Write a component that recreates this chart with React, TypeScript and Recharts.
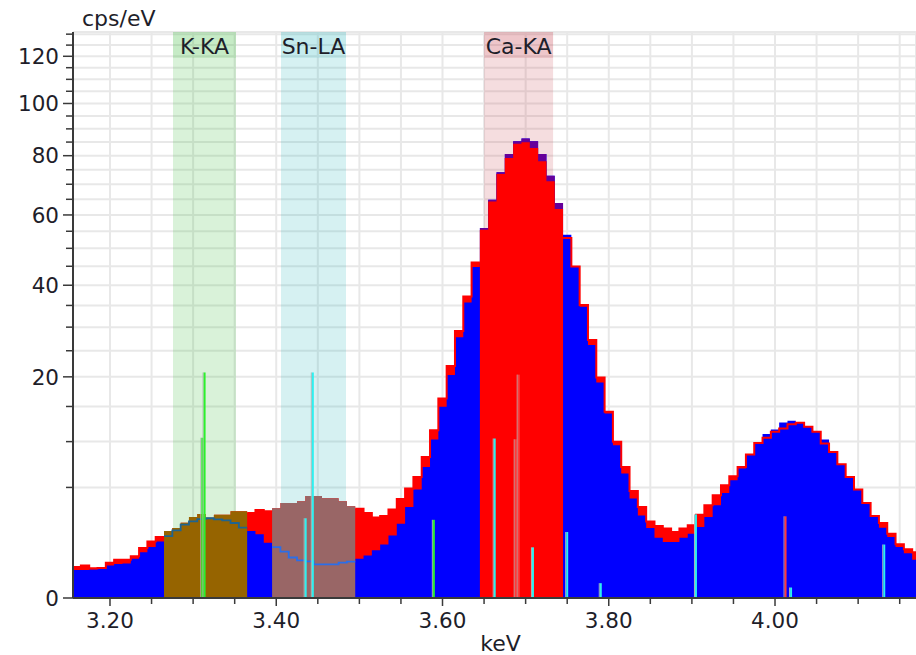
import React from 'react';
import {
  ComposedChart,
  Area,
  Line,
  XAxis,
  YAxis,
  CartesianGrid,
  ReferenceArea,
  ReferenceLine,
} from 'recharts';

// ---------- data ----------
const energies = [
  3.15, 3.16, 3.17, 3.18, 3.19, 3.2, 3.21, 3.22, 3.23, 3.24, 3.25, 3.26, 3.27, 3.28, 3.29, 3.3, 3.31, 3.32, 3.33, 3.34,
  3.35, 3.36, 3.37, 3.38, 3.39, 3.4, 3.41, 3.42, 3.43, 3.44, 3.45, 3.46, 3.47, 3.48, 3.49, 3.5, 3.51, 3.52, 3.53, 3.54,
  3.55, 3.56, 3.57, 3.58, 3.59, 3.6, 3.61, 3.62, 3.63, 3.64, 3.65, 3.66, 3.67, 3.68, 3.69, 3.7, 3.71, 3.72, 3.73, 3.74,
  3.75, 3.76, 3.77, 3.78, 3.79, 3.8, 3.81, 3.82, 3.83, 3.84, 3.85, 3.86, 3.87, 3.88, 3.89, 3.9, 3.91, 3.92, 3.93, 3.94,
  3.95, 3.96, 3.97, 3.98, 3.99, 4.0, 4.01, 4.02, 4.03, 4.04, 4.05, 4.06, 4.07, 4.08, 4.09, 4.1, 4.11, 4.12, 4.13, 4.14,
  4.15, 4.16, 4.17, 4.18,
];

// spectrum 1 (red)
const spectrumRed = [
  0.39, 0.39, 0.43, 0.36, 0.37, 0.51, 0.6, 0.6, 0.71, 1.02, 1.31, 1.52, 1.83, 2.0, 2.32, 2.68, 2.88, 2.64, 2.84, 2.84,
  3.07, 3.07, 2.95, 3.17, 3.07, 3.29, 3.69, 3.69, 3.82, 4.26, 4.26, 4.06, 4.06, 3.82, 3.44, 3.25, 2.95, 2.65, 2.75, 3.2,
  4.0, 4.9, 5.99, 8.14, 11.52, 16.29, 22.0, 29.16, 37.15, 46.03, 55.45, 64.32, 73.54, 79.2, 84.34, 84.93, 82.85, 77.98, 70.99, 61.88,
  52.98, 44.93, 35.13, 27.23, 19.9, 14.17, 9.97, 7.02, 4.68, 3.39, 2.4, 2.12, 1.97, 1.78, 1.97, 2.16, 2.84, 3.51, 4.31, 5.2,
  6.06, 7.02, 8.42, 9.84, 10.5, 11.29, 11.76, 12.36, 12.55, 11.98, 11.29, 9.76, 8.73, 7.32, 5.99, 4.81, 3.69, 2.75, 2.3, 1.69,
  1.18, 0.97, 0.86, 0.8,
];

// spectrum 2 (blue)
const spectrumBlue = [
  0.32, 0.32, 0.32, 0.33, 0.38, 0.43, 0.47, 0.49, 0.63, 0.86, 1.06, 1.31, 1.57, 1.87, 2.2, 2.4, 2.55, 2.6, 2.53, 2.47,
  2.3, 2.02, 1.83, 1.66, 1.25, 1.06, 0.88, 0.67, 0.58, 0.55, 0.46, 0.46, 0.46, 0.51, 0.54, 0.63, 0.74, 0.93, 1.17, 1.6,
  2.26, 3.39, 4.81, 7.02, 10.28, 14.95, 20.33, 27.8, 35.68, 44.77, 55.97, 64.88, 74.1, 80.65, 85.3, 86.32, 85.3, 80.65, 72.95, 63.8,
  53.96, 44.93, 34.7, 26.18, 19.01, 13.92, 9.55, 6.33, 4.04, 2.79, 2.0, 1.49, 1.28, 1.28, 1.49, 1.69, 2.06, 2.68, 3.51, 4.51,
  5.67, 6.85, 8.35, 9.84, 11.0, 11.62, 12.6, 12.84, 12.55, 11.98, 11.29, 10.28, 8.85, 7.32, 5.99, 4.81, 3.69, 2.75, 2.02, 1.52,
  1.06, 0.82, 0.6, 0.55,
];

// regions of interest
const roiLabels = ['K-KA', 'Sn-LA', 'Ca-KA'];
const roiWindowFrom = [3.2758, 3.4057, 3.65];
const roiWindowTo = [3.3516, 3.4839, 3.733];
const roiFirstBin = [3.27, 3.4, 3.65];
const roiLastBin = [3.36, 3.49, 3.74];

// line markers
const markerElement = ['K', 'K', 'K', 'Sn', 'Sn', 'Sn', 'Sn', 'Sn', 'Sn', 'Sn', 'Sn', 'Sn', 'Ca', 'Ca', 'Ca'];
const markerEnergy = [3.3111, 3.3138, 3.5896, 3.4354, 3.444, 3.6628, 3.7088, 3.75, 3.7904, 3.9049, 4.0193, 4.1314, 3.6881, 3.6917, 4.0127];
const markerHeight = [10.5, 20.8, 2.5, 2.6, 20.8, 10.4, 1.05, 1.78, 0.09, 2.86, 0.045, 1.17, 10.3, 20.4, 2.73];

const xTicks = [3.2, 3.25, 3.3, 3.35, 3.4, 3.45, 3.5, 3.55, 3.6, 3.65, 3.7, 3.75, 3.8, 3.85, 3.9, 3.95, 4.0, 4.05, 4.1, 4.15];
const yTicks = [0, 5, 10, 15, 20, 25, 30, 35, 40, 45, 50, 55, 60, 65, 70, 75, 80, 85, 90, 95, 100, 105, 110, 115, 120, 125, 130];
const yLabelled = [0, 20, 40, 60, 80, 100, 120];

const BIN_WIDTH = 0.01;
const X_DOMAIN: [number, number] = [3.1555, 4.1696];
const Y_DOMAIN: [number, number] = [0, 131];

// ---------- styles ----------
const FONT = "'DejaVu Sans', Verdana, sans-serif";
const TEXT = '#1e1e2a';
const AXIS = '#3a3a3a';
const roiFillColor = ['#966400', '#996666', '#ff0000'];
const roiBandColor = ['#40c040', '#30b8c0', '#c84050'];
const roiBandOpacity = [0.2, 0.2, 0.18];
const roiLabelOpacity = [0.12, 0.1, 0.14];
const markerColor: Record<string, string> = { K: '#2cf02c', Sn: '#2ef0f0', Ca: '#ff3a3a' };

// ---------- derived rows (bin edges for histogram steps) ----------
const roiIndexOf = (e: number) => {
  for (let k = 0; k < roiFirstBin.length; k++) {
    if (e >= roiFirstBin[k] - 1e-6 && e <= roiLastBin[k] + 1e-6) return k;
  }
  return -1;
};

const rows: any[] = [];
energies.forEach((e, i) => {
  const r = spectrumRed[i];
  const b = spectrumBlue[i];
  const roi = roiIndexOf(e);
  const row = {
    red: r,
    blue: b,
    redLine: roi < 0 ? r : null,
    kFill: roi === 0 ? r : null,
    snFill: roi === 1 ? r : null,
    caCap: roi === 2 ? b : null,
    caFill: roi === 2 ? r : null,
    kLine: roi === 0 ? b : null,
    snLine: roi === 1 ? b : null,
  };
  rows.push({ e: +(e - BIN_WIDTH / 2).toFixed(4), ...row });
  rows.push({ e: +(e + BIN_WIDTH / 2).toFixed(4), ...row });
});

// ---------- custom ticks ----------
const XTick = (props: any) => {
  const { x, y, payload } = props;
  const v = payload.value as number;
  const major = Math.abs(v * 5 - Math.round(v * 5)) < 1e-6;
  return (
    <g>
      <line x1={x} y1={y} x2={x} y2={y + (major ? 8 : 6)} stroke={AXIS} strokeWidth={1.5} />
      {major && (
        <text x={x} y={y + 30} textAnchor="middle" fontSize={21.5} fontFamily={FONT} fill={TEXT}>
          {v.toFixed(2)}
        </text>
      )}
    </g>
  );
};

const YTick = (props: any) => {
  const { x, y, payload } = props;
  const v = payload.value as number;
  const major = yLabelled.includes(v);
  return (
    <g>
      <line x1={x - (major ? 10 : 7)} y1={y} x2={x} y2={y} stroke={AXIS} strokeWidth={1.5} />
      {major && (
        <text x={x - 14} y={y} dy="0.36em" textAnchor="end" fontSize={21.5} fontFamily={FONT} fill={TEXT}>
          {v}
        </text>
      )}
    </g>
  );
};

const bandLabel = (k: number) => (p: any) => {
  const vb = p.viewBox || {};
  return (
    <g>
      <rect x={vb.x} y={vb.y} width={vb.width} height={26} fill={roiBandColor[k]} fillOpacity={roiLabelOpacity[k]} />
      <text x={vb.x + vb.width / 2} y={vb.y + 22} textAnchor="middle" fontSize={22} fontFamily={FONT} fill={TEXT}>
        {roiLabels[k]}
      </text>
    </g>
  );
};

const markerShape = (color: string) => (p: any) => {
  const { x1, y1, x2, y2 } = p;
  return (
    <g>
      <line x1={x1 - 1.5} y1={y1} x2={x2 - 1.5} y2={y2} stroke="#b4b4b4" strokeWidth={1} />
      <line x1={x1} y1={y1} x2={x2} y2={y2} stroke={color} strokeWidth={2} />
    </g>
  );
};

export default function App() {
  return (
    <div style={{ position: 'absolute', left: 0, top: 0, width: 916, height: 655, background: '#fff' }}>
      <ComposedChart width={916} height={655} data={rows} margin={{ top: 32, right: 0, bottom: 0, left: 0 }}>
        <CartesianGrid stroke="#e8e8e8" strokeWidth={2} />
        <XAxis
          dataKey="e"
          type="number"
          domain={X_DOMAIN}
          allowDataOverflow
          ticks={xTicks}
          interval={0}
          tick={<XTick />}
          tickLine={false}
          tickSize={0}
          tickMargin={0}
          height={57}
          axisLine={{ stroke: AXIS, strokeWidth: 2 }}
          label={{
            content: (p: any) => {
              const vb = p.viewBox;
              return (
                <text x={vb.x + vb.width / 2 + 6} y={vb.y + vb.height - 4} textAnchor="middle" fontSize={22} fontFamily={FONT} fill={TEXT}>
                  keV
                </text>
              );
            },
          }}
        />
        <XAxis
          xAxisId="top"
          orientation="top"
          dataKey="e"
          type="number"
          domain={X_DOMAIN}
          allowDataOverflow
          tick={false}
          tickLine={false}
          height={0}
          axisLine={{ stroke: AXIS, strokeWidth: 2 }}
        />
        <YAxis
          type="number"
          scale="sqrt"
          domain={Y_DOMAIN}
          allowDataOverflow
          ticks={yTicks}
          interval={0}
          tick={<YTick />}
          tickLine={false}
          tickSize={0}
          tickMargin={0}
          width={73}
          axisLine={{ stroke: AXIS, strokeWidth: 2 }}
          label={{
            content: (p: any) => {
              const vb = p.viewBox;
              return (
                <text x={vb.x + vb.width + 9} y={vb.y - 6} textAnchor="start" fontSize={22} fontFamily={FONT} fill={TEXT}>
                  cps/eV
                </text>
              );
            },
          }}
        />

        {roiLabels.map((lab, k) => (
          <ReferenceArea
            key={lab}
            x1={roiWindowFrom[k]}
            x2={roiWindowTo[k]}
            fill={roiBandColor[k]}
            fillOpacity={roiBandOpacity[k]}
            stroke="none"
            label={{ content: bandLabel(k) }}
          />
        ))}

        <Area dataKey="red" type="linear" fill="#ff0000" fillOpacity={1} stroke="none" isAnimationActive={false} dot={false} activeDot={false} />
        <Area dataKey="blue" type="linear" fill="#0000ff" fillOpacity={1} stroke="none" isAnimationActive={false} dot={false} activeDot={false} />
        <Area dataKey="caCap" type="linear" fill="#660099" fillOpacity={1} stroke="none" isAnimationActive={false} dot={false} activeDot={false} />
        <Area dataKey="caFill" type="linear" fill={roiFillColor[2]} fillOpacity={1} stroke="none" isAnimationActive={false} dot={false} activeDot={false} />
        <Area dataKey="kFill" type="linear" fill={roiFillColor[0]} fillOpacity={1} stroke="none" isAnimationActive={false} dot={false} activeDot={false} />
        <Area dataKey="snFill" type="linear" fill={roiFillColor[1]} fillOpacity={1} stroke="none" isAnimationActive={false} dot={false} activeDot={false} />

        <Line dataKey="redLine" type="linear" stroke="#ff0000" strokeWidth={2} dot={false} activeDot={false} isAnimationActive={false} />
        <Line dataKey="kLine" type="linear" stroke="#1e6490" strokeWidth={1.8} dot={false} activeDot={false} isAnimationActive={false} />
        <Line dataKey="snLine" type="linear" stroke="#2a6eea" strokeWidth={1.8} dot={false} activeDot={false} isAnimationActive={false} />

        {markerEnergy.map((e, i) => (
          <ReferenceLine
            key={'m' + i}
            segment={[
              { x: e, y: 0 },
              { x: e, y: markerHeight[i] },
            ]}
            stroke={markerColor[markerElement[i]]}
            shape={markerShape(markerColor[markerElement[i]])}
          />
        ))}
      </ComposedChart>
    </div>
  );
}
